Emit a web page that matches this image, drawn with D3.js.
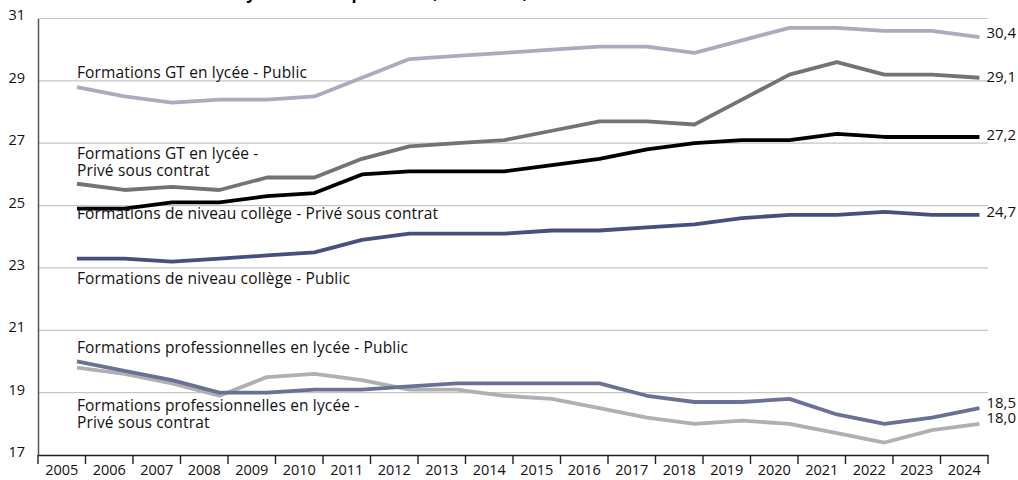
<!DOCTYPE html>
<html lang="fr">
<head>
<meta charset="UTF-8">
<title>Nombre moyen d'élèves par classe</title>
<script src="https://cdnjs.cloudflare.com/ajax/libs/d3/7.8.5/d3.min.js"></script>
<style>
    body { margin: 0; background: #fff; }
    svg { display: block; font-family: "Open Sans", sans-serif; }
</style>
</head>
<body>
<svg width="1018" height="480"></svg>
<script>
    const years = ["2005", "2006", "2007", "2008", "2009", "2010", "2011", "2012", "2013", "2014",
                   "2015", "2016", "2017", "2018", "2019", "2020", "2021", "2022", "2023", "2024"];
    const yTicks = [17, 19, 21, 23, 25, 27, 29, 31];

    const gtPublic   = [28.8, 28.5, 28.3, 28.4, 28.4, 28.5, 29.1, 29.7, 29.8, 29.9, 30.0, 30.1, 30.1, 29.9, 30.3, 30.7, 30.7, 30.6, 30.6, 30.4];
    const gtPrive    = [25.7, 25.5, 25.6, 25.5, 25.9, 25.9, 26.5, 26.9, 27.0, 27.1, 27.4, 27.7, 27.7, 27.6, 28.4, 29.2, 29.6, 29.2, 29.2, 29.1];
    const colPrive   = [24.9, 24.9, 25.1, 25.1, 25.3, 25.4, 26.0, 26.1, 26.1, 26.1, 26.3, 26.5, 26.8, 27.0, 27.1, 27.1, 27.3, 27.2, 27.2, 27.2];
    const colPublic  = [23.3, 23.3, 23.2, 23.3, 23.4, 23.5, 23.9, 24.1, 24.1, 24.1, 24.2, 24.2, 24.3, 24.4, 24.6, 24.7, 24.7, 24.8, 24.7, 24.7];
    const proPublic  = [20.0, 19.7, 19.4, 19.0, 19.0, 19.1, 19.1, 19.2, 19.3, 19.3, 19.3, 19.3, 18.9, 18.7, 18.7, 18.8, 18.3, 18.0, 18.2, 18.5];
    const proPrive   = [19.8, 19.6, 19.3, 18.9, 19.5, 19.6, 19.4, 19.1, 19.1, 18.9, 18.8, 18.5, 18.2, 18.0, 18.1, 18.0, 17.7, 17.4, 17.8, 18.0];

    const series = [
        { name: ["Formations GT en lycée - Public"], values: gtPublic, color: "#a8acbd", labelAt: 29.09 },
        { name: ["Formations GT en lycée -", "Privé sous contrat"], values: gtPrive, color: "#737373", labelAt: 26.48 },
        { name: ["Formations de niveau collège - Privé sous contrat"], values: colPrive, color: "#000000", labelAt: 24.58 },
        { name: ["Formations de niveau collège - Public"], values: colPublic, color: "#474f7f", labelAt: 22.5 },
        { name: ["Formations professionnelles en lycée - Public"], values: proPublic, color: "#6b7196", labelAt: 20.27 },
        { name: ["Formations professionnelles en lycée -", "Privé sous contrat"], values: proPrive, color: "#b0b0b0", labelAt: 18.4 }
    ];
    // draw order: light ones behind
    const drawOrder = [5, 4, 0, 1, 3, 2];

    const svg = d3.select("svg");
    const mLeft = 38, mRight = 988, mTop = 18.5, mBottom = 455;

    const x = d3.scaleBand().domain(years).range([mLeft, mRight]);
    const y = d3.scaleLinear().domain([17, 31]).range([mBottom, mTop]);
    const px = d => x(d) + x.bandwidth() * 0.82;

    // title, cut off at the top edge as in the source
    svg.append("text")
        .attr("x", 148).attr("y", -1)
        .attr("font-weight", "bold").attr("font-size", 16.5)
        .text("Nombre moyen d'élèves par classe, en France, de 2005 à 2024");

    // gridlines
    svg.append("g").selectAll("line")
        .data(yTicks.slice(1))
        .join("line")
        .attr("x1", mLeft).attr("x2", mRight)
        .attr("y1", d => y(d)).attr("y2", d => y(d))
        .attr("stroke", "#c6c6c6").attr("stroke-width", 1.2);

    // y axis
    const yAxis = svg.append("g")
        .attr("transform", `translate(${mLeft},0)`)
        .call(d3.axisLeft(y).tickValues(yTicks).tickSize(0).tickPadding(13));
    yAxis.select(".domain").attr("stroke", "#555").attr("stroke-width", 1.5);
    yAxis.selectAll("text").attr("font-size", 14.5).attr("fill", "#111")
        .attr("font-family", "Open Sans, sans-serif").attr("dy", "0.1em");

    // x axis
    const xAxis = svg.append("g")
        .attr("transform", `translate(0,${mBottom})`)
        .call(d3.axisBottom(x).tickSize(0).tickPadding(10));
    xAxis.select(".domain").attr("stroke", "#222").attr("stroke-width", 1.6);
    xAxis.selectAll("text").attr("font-size", 14.5).attr("fill", "#111")
        .attr("font-family", "Open Sans, sans-serif");
    xAxis.append("g").selectAll("line")
        .data(years.concat(["end"]))
        .join("line")
        .attr("x1", (d, i) => mLeft + i * x.step())
        .attr("x2", (d, i) => mLeft + i * x.step())
        .attr("y1", 0).attr("y2", 9)
        .attr("stroke", "#222").attr("stroke-width", 1.4);

    // lines
    const line = d3.line()
        .x((d, i) => px(years[i]))
        .y(d => y(d));

    svg.append("g").selectAll("path")
        .data(drawOrder.map(i => series[i]))
        .join("path")
        .attr("d", d => line(d.values))
        .attr("fill", "none")
        .attr("stroke", d => d.color)
        .attr("stroke-width", 3.8)
        .attr("stroke-linejoin", "round");

    // series labels
    series.forEach(s => {
        const t = svg.append("text")
            .attr("x", px(years[0]))
            .attr("y", y(s.labelAt))
            .attr("font-size", 15.5)
            .attr("letter-spacing", 0.15)
            .attr("fill", "#111");
        s.name.forEach((n, i) => {
            t.append("tspan")
                .attr("x", px(years[0]))
                .attr("dy", i === 0 ? 0 : 17)
                .text(n);
        });
    });

    // end values
    const endNudge = [-4, -1, -2.5, -3.5, -5, -6];
    series.forEach((s, i) => {
        const v = s.values[s.values.length - 1];
        svg.append("text")
            .attr("x", px(years[years.length - 1]) + 7)
            .attr("y", y(v) + endNudge[i])
            .attr("dy", "0.35em")
            .attr("font-size", 15)
            .attr("fill", "#111")
            .text(d3.format(".1f")(v).replace(".", ","));
    });
</script>
</body>
</html>
